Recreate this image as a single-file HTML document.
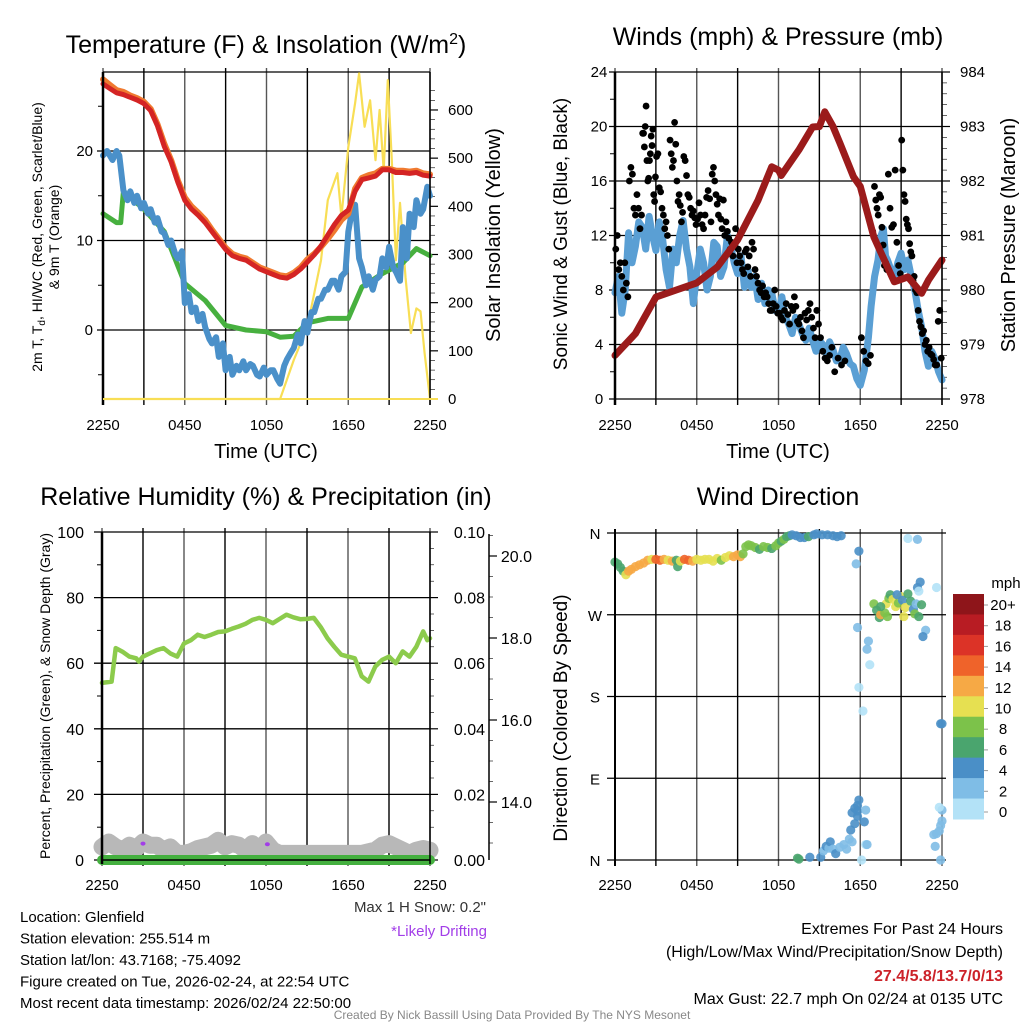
<!DOCTYPE html>
<html><head><meta charset="utf-8"><style>
html,body{margin:0;padding:0;background:#fff;}
svg{display:block;font-family:"Liberation Sans",Arial,sans-serif;}
</style></head><body>
<svg id="c" width="1024" height="1024" viewBox="0 0 1024 1024">
<rect width="1024" height="1024" fill="#fff"/>
</svg>
<script>
// ---------- data ----------
const tickHoursLbl = ["2250","0450","1050","1650","2250"];
// panel 1 (hours since 2250)
const tempHours = [0,0.5,1,1.5,2,2.5,3,3.5,4,4.5,5,5.5,6,6.5,7,7.5,8,8.5,9,9.5,10,10.5,11,11.5,12,12.5,13,13.5,14,14.5,15,15.5,16,16.5,17,17.5,18,18.5,19,19.5,20,20.5,21,21.5,22,22.5,23,23.5,24];
const tempVals  = [27.5,27,26.5,26.3,26,25.7,25.3,24.5,22.8,20.5,18.8,16.5,14.5,13.5,12.8,12,11,10,9,8.3,8,7.8,7.3,6.8,6.5,6.2,5.9,5.8,6.2,6.8,7.6,8.4,9.4,10.6,11.8,12.8,13.4,15.5,16.8,17,17.2,17.9,17.9,17.6,17.6,17.5,17.6,17.3,17.2];
const t9Vals    = [28,27.4,26.8,26.6,26.2,25.9,25.5,24.7,23,20.8,19,16.7,14.8,13.8,13.1,12.3,11.2,10.2,9.2,8.5,8.2,8,7.5,7,6.7,6.4,6.1,6,6.4,7,7.9,8.5,9.3,10.2,11.2,12.3,13,15.8,17,17.3,17.5,18,18,17.8,17.8,17.7,17.8,17.5,17.4];
const wcHours = [0,0.3,0.7,1,1.2,1.5,1.8,2,2.3,2.5,2.8,3,3.3,3.5,3.8,4,4.3,4.5,4.8,5,5.3,5.5,5.8,6,6.3,6.5,6.8,7,7.3,7.5,7.8,8,8.3,8.5,8.8,9,9.3,9.5,9.8,10,10.3,10.5,10.8,11,11.3,11.5,11.8,12,12.3,12.5,12.8,13,13.3,13.5,13.8,14,14.3,14.5,14.8,15,15.3,15.5,15.8,16,16.3,16.5,16.8,17,17.3,17.5,17.8,18,18.3,18.5,18.8,19,19.3,19.5,19.8,20,20.3,20.5,20.8,21,21.3,21.5,21.8,22,22.3,22.5,22.8,23,23.3,23.5,23.8,24];
const wcVals  = [19.5,20,19,20,19.5,15.6,14.5,15.5,14.2,15,13.6,14.2,13,13.5,12,12.5,11,10.8,9.5,10,8.5,8,8.8,3,4,2,2.5,1,1.8,0.3,-1,-1.5,-0.8,-3,-1.5,-4.5,-3,-5,-4,-4.5,-3.5,-4.5,-3.8,-4,-5,-5.2,-4.2,-5,-4.5,-4.5,-5.5,-6,-4,-3.3,-2.5,-2,-0.5,-1.5,1,-0.3,2,2,3.5,3.5,4.5,4.5,5.5,5.5,4.5,6,6.5,11,13.5,14,8,7,5,6,4.5,5.6,6,8,7,9.3,7,6.5,5.5,11.5,8,13,11.5,14.5,13,13.5,16,15];
const tdHours = [0,1,1.3,1.5,3,4.5,6,7.5,9,10.5,12,13,14,15,16.5,18,19,20.5,22,23,24];
const tdVals  = [13,12,12,15.5,13.5,11,5.2,3.3,0.5,0,-0.2,-0.8,-0.7,0.8,1.3,1.3,4.8,6.3,7.5,9.1,8.3];
const solHours = [0,13,14,15,16,16.5,17.2,17.5,18,18.5,18.8,19.2,19.6,20,20.3,20.6,20.9,21.2,21.5,21.8,22.2,22.6,23,23.3,23.6,24];
const solVals  = [0,0,81,150,288,413,469,378,523,614,676,565,620,496,600,475,662,496,288,407,253,137,188,182,95,0];
// panel 2
const presHours = [0,1.5,3,4.5,6,7.5,9,10.5,11.5,12,12.2,13.5,14.5,15,15.4,16,16.5,17.5,18,19,20,20.5,21.5,22.5,23,24];
const presVals  = [978.8,979.2,979.87,980,980.13,980.42,980.92,981.65,982.26,982.2,982.1,982.57,982.99,983,983.27,983,982.7,982.08,981.9,980.97,980.42,980.15,980.24,979.94,980.18,980.55];
const windHours = [0,0.25,0.5,0.75,1,1.25,1.5,1.75,2,2.25,2.5,2.75,3,3.25,3.5,3.75,4,4.25,4.5,4.75,5,5.25,5.5,5.75,6,6.25,6.5,6.75,7,7.25,7.5,7.75,8,8.25,8.5,8.75,9,9.25,9.5,9.75,10,10.25,10.5,10.75,11,11.25,11.5,11.75,12,12.25,12.5,12.75,13,13.25,13.5,13.75,14,14.25,14.5,14.75,15,15.25,15.5,15.75,16,16.25,16.5,16.75,17,17.25,17.5,17.75,18,18.3,18.6,18.8,19.05,19.3,19.5,19.7,19.85,20,20.25,20.5,20.75,21,21.25,21.5,21.75,22,22.25,22.5,22.75,23,23.25,23.5,23.75,24];
const windVals  = [7.8,9,6.3,8,12.2,10,11.2,13,12.6,11,13.4,12,10.9,13,11.7,9.5,8.2,11,10,12,13.1,11,9.7,7,9.2,11,10,8,9,11.5,11.2,9,9.7,12,11.2,10,9.2,10.5,8.2,9.5,8.2,9,7.3,8.5,7,8,7.8,6.5,6.3,7.5,6,5.5,4.8,6,5.5,4.8,4.3,5.2,4.3,3.5,4.3,4,3.3,4.2,3.6,2.8,2.9,3.8,3.3,2.6,2.4,1.5,1,2.1,4.5,6.8,9,10.2,11.9,12.5,10.5,10.2,9.5,8.7,10,10.7,9.5,10.2,9,8,6.5,5.3,3.5,2.4,3.5,2.9,2,1.4];
const gustByHour = [
 [11,12,9.5,10,9,8,10,8.5,7.5],
 [16,17,16.5,14,13.5,15,14,12.5,13.5],
 [19.5,19.5,18.5,20,21.5,17.5,16,16.2,17.5,18,19.3,18.6,19.8,15,14.5,16.3],
 [17.8,18,15.5,15.2,14,13.5,12.5,13,12,11],
 [19,18,17,17.5,20.3,18.7,16,14.5,15,14.2,13,13.7],
 [17.8,17.5,16.4,15,14.8,14,13.5,13.8,13.3,12.8],
 [13.2,14.4,13.5,12.8,12.5,13.5,14.8,15.3,14.7],
 [13,16.5,17,16,15,14.3,13.5,14.7,13.2,12.5,14.6],
 [12,13,12.3,11.8,11,11.5,10.5,11.2,12.5,10],
 [11,10.5,10,9.5,9.2,10.8,11,9.7,10.5,9],
 [11.5,11,9.5,9,8.5,8,7.8,8.3,7.5],
 [7.8,7.5,7,6.5,6.5,7,8,6.8,6.3],
 [6.3,6,5.8,6.5,7,6.2,5.5,6.8],
 [6.5,7.5,6.8,5.7,5.5,6,5,4.5,6.3],
 [5.8,6.5,7,6,5.2,4.5,6.5,5.5],
 [4.5,3.5,3,2.8,3.2,3.8],
 [2,3,2.5,2.8],
 [],
 [4.5,3.5,2.8,2.6,3.2,12.3],
 [15.6,14.6,14,13.5,15,14.8,12.6,11.3,9.8,10,9.5],
 [16.5,14,12.6,12.8,16.8,11.5,9.8,9.2],
 [19,16.8,15,14.5,13.2,12.8,12.5,11.4,10.8,10.5,8.7,9],
 [8,7.8,6.5,5.7,5.3,4.8,5,4,4.3,3.5],
 [3.8,3.3,3.2,2.9,2.5,2.5,5.7,6.5,3]
];
// panel 3
const rhHours = [0,0.7,1,1.5,2,2.5,2.7,3,3.5,4,4.5,5,5.5,6,6.5,7,7.5,8,8.5,9,9.5,10,10.5,11,11.5,12,12.5,13,13.5,14,14.5,15,15.5,16,16.5,17,17.5,18,18.5,19,19.5,20,20.5,21,21.5,22,22.5,23,23.5,23.8,24];
const rhVals  = [54,54.4,64.6,63.5,62,61.5,60.5,62,63,64,64.6,63,62,66,67,68.7,68,68.7,69.5,69.7,70.5,71.2,72,73.2,73.8,73.2,72.2,73.5,74.8,74,73.4,73.5,73.8,71,67.6,65,62.6,62,61.5,56,54.4,59,61,62,60,63.6,62,65,69.7,67,67.6];
const snowHours = [0,0.5,1,1.5,2,2.5,3,3.5,4,4.5,5,5.5,6,6.5,7,7.5,8,8.5,9,9.5,10,10.5,11,11.5,12,12.5,13,15,17,19,19.5,20,20.5,21,21.5,22,22.5,23,23.5,24];
const snowVals  = [4,5.5,4,3,4.5,3.5,5.5,4.5,4.5,3,4,2,2,2.5,3.5,4,4.5,6,4,5,4.5,3,5,3,5.5,3,2,2,2,2,2.5,3,4.5,5,4,3,2,3,3.5,3];
const precipVals = [0,0];
const driftHours = [3,12.1];
const driftVals = [5,4.8];
// panel 4
const dirTime = [0,0.2,0.4,0.6,0.8,1,1.2,1.5,1.8,2.1,2.4,2.7,3,3.3,3.6,3.9,4.2,4.5,4.6,4.8,5.1,5.4,5.7,6,6.3,6.6,6.9,7.2,7.5,7.8,8.1,8.4,8.7,9,9.2,9.4,9.6,9.8,10,10.3,10.6,10.9,11.2,11.5,11.8,12,12.2,12.4,12.6,12.8,13,13.3,13.6,13.9,14.2,14.6,14.8,15.2,15.6,16,16.3,16.6,
 17.9,17.7,17.8,18.6,18.5,18.7,17.9,18.2,21.5,22.2,22.4,22.2,23.6,22.3,22.8,22.6,23.9,
 19,19.2,19.4,19.5,19.8,19.9,20.1,20.2,20.4,20.6,20.8,21,21.1,21.3,21.5,21.7,21.9,22.1,22,22.3,22.5,19.5,20,20.7,21.2,
 13.4,13.5,14.3,15.1,15.3,15.5,15.7,15.8,16,16.2,16.5,16.8,17,17.2,17.4,17.3,17.6,17.8,17.6,17.8,17.9,17.8,17.4,18.3,18.4,18.4,18.5,18.1,23.9,23.5,23.4,23.6,23.8,23.9,24,24,23.8,24];
const dirVal = [328,326,322,318,314,318,320,323,325,327,330,331,331,330,331,330,329,330,323,329,331,330,329,331,330,331,331,329,332,330,333,335,334,336,334,337,345,347,346,344,342,345,344,343,346,349,351,353,356,357,358,357,355,355,356,358,359,358,358,357,356,357,
 340,326,256,241,232,215,190,164,354,353,306,300,300,296,253,246,150,
 282,275,267,270,272,282,288,292,287,279,283,290,286,278,293,285,276,282,271,268,281,279,268,292,268,
 2,1,3,3,10,15,13,20,12,7,14,17,12,23,20,33,40,48,57,60,66,54,52,42,55,17,17,0,0,15,28,29,32,38,43,55,58,150];
const dirSpd = [7,6,6,7,10,12,12,12,13,12,13,11,15,14,13,11,13,7,7,10,15,15,13,10,10,11,10,11,10,8,10,10,12,13,12,8,8,9,9,9,7,9,8,7,8,8,7,8,7,7,5,5,5,5,6,5,4,4,5,4,4,4,
 4,2,2,3,2,1,1,1,1,3,4,4,1,1,3,4,4,
 8,7,7,13,9,10,8,7,10,11,8,11,5,10,7,7,4,3,8,6,6,6,9,4,10,
 6,6,4,4,3,4,3,4,3,4,2,2,3,3,2,4,4,4,4,4,4,4,4,4,3,1,2,1,3,3,3,2,2,2,2,2,1,4];
const cbLabels = ["20+","18","16","14","12","10","8","6","4","2","0"];
const cbColors = ["#8e151a","#b81c23","#dc3327","#ef632a","#f6a945","#e6e051","#7cc24a","#4aa56e","#4a8fc7","#7fbde6","#b3e2f7"];

// ---------- helpers ----------
const NS="http://www.w3.org/2000/svg";
const svg=document.getElementById('c');
function mk(tag,attrs,parent){const e=document.createElementNS(NS,tag);for(const k in attrs)e.setAttribute(k,attrs[k]);(parent||svg).appendChild(e);return e;}
function txt(s,x,y,size,anchor,extra){const e=mk('text',Object.assign({x:x,y:y,'font-size':size,'text-anchor':anchor||'start',fill:'#000'},extra||{}));e.textContent=s;return e;}
function lin(x0,x1,h0,h1){return v=>x0+(v-h0)/(h1-h0)*(x1-x0);}
function poly(xs,ys,fx,fy,stroke,w,g){return mk('polyline',{points:xs.map((h,i)=>fx(h).toFixed(1)+','+fy(ys[i]).toFixed(1)).join(' '),fill:'none',stroke:stroke,'stroke-width':w,'stroke-linejoin':'round','stroke-linecap':'round'},g);}
function frame(L,R,T,B,g){
  for(let k=0;k<=8;k++){const x=L+k*(R-L)/8;mk('line',{x1:x,y1:T-4,x2:x,y2:B+6,stroke:k%2?'#000':'#555','stroke-width':1.4},g);}
}
function xLabels(L,R,y,g){tickHoursLbl.forEach((s,i)=>{const t=txt(s,L+i*(R-L)/4,y,15,'middle');g.appendChild(t);});}

// ---------- panel 1 ----------
{
const g=mk('g',{});


const L=103,R=430,T=72,B=399;
const fx=lin(L,R,0,24), fy=v=>330-v*8.95, fs=v=>399-v*0.4817;
frame(L,R,T,B,g);
[20,10,0].forEach(v=>{mk('line',{x1:L-6,y1:fy(v),x2:R,y2:fy(v),stroke:'#000','stroke-width':1.3},g);const t=txt(String(v),L-10,fy(v)+5,15,'end');g.appendChild(t);});
[25,15,5,-5].forEach(v=>mk('line',{x1:L-5,y1:fy(v),x2:L,y2:fy(v),stroke:'#000'},g));
mk('line',{x1:L,y1:T,x2:R,y2:T,stroke:'#000','stroke-width':1.3},g);
for(let v=0;v<=650;v+=20){mk('line',{x1:R,y1:fs(v),x2:R+(v%100?5:8),y2:fs(v),stroke:'#000','stroke-width':v%100?0.6:1.2},g);}
[0,100,200,300,400,500,600].forEach(v=>g.appendChild(txt(String(v),R+18,fs(v)+5,15,'start')));
const s1=poly(solHours,solVals,fx,fs,'#f8de55',2.2,g);
const td=poly(tdHours,tdVals,fx,fy,'#47b03f',5,g);
const wc=poly(wcHours,wcVals,fx,fy,'#4a90c9',6,g);
const t9=poly(tempHours,t9Vals,fx,fy,'#f07a30',6,g);
const t2=poly(tempHours,tempVals,fx,fy,'#d42424',5,g);
mk('line',{x1:L,y1:T,x2:L,y2:B+6,stroke:'#000','stroke-width':2.5},g);
mk('line',{x1:R,y1:T,x2:R,y2:B+6,stroke:'#000','stroke-width':1.5},g);
mk('line',{x1:L,y1:B,x2:R+8,y2:B,stroke:'#f8de55','stroke-width':2},g);
xLabels(L,R,430,g);
g.appendChild(txt('Time (UTC)',266,458,20,'middle'));
const ti=txt('',266,53,25,'middle');ti.innerHTML='Temperature (F) &amp; Insolation (W/m<tspan dy="-9" font-size="16">2</tspan><tspan dy="9">)</tspan>';g.appendChild(ti);

const yl=txt('',0,0,14,'middle',{transform:'translate(42,237) rotate(-90)'});yl.innerHTML='2m T, T<tspan dy="3" font-size="10">d</tspan><tspan dy="-3">, HI/WC (Red, Green, Scarlet/Blue)</tspan>';g.appendChild(yl);
g.appendChild(txt('& 9m T (Orange)',0,0,14,'middle',{transform:'translate(59,237) rotate(-90)'}));
g.appendChild(txt('Solar Insolation (Yellow)',0,0,20,'middle',{transform:'translate(500,235) rotate(-90)'}));
}
// ---------- panel 2 ----------
{
const g=mk('g',{});


const L=615,R=942,T=72,B=399;
const fx=lin(L,R,0,24), fy=v=>B-v*13.625, fp=p=>B-(p-978)*54.5;
frame(L,R,T,B,g);
for(let v=0;v<=24;v+=4){mk('line',{x1:L-6,y1:fy(v),x2:R,y2:fy(v),stroke:'#000','stroke-width':1.3},g);g.appendChild(txt(String(v),L-16,fy(v)+5,15,'middle'));}
for(let v=2;v<24;v+=4)mk('line',{x1:L-5,y1:fy(v),x2:L,y2:fy(v),stroke:'#000'},g);
for(let p=978;p<=984.01;p+=0.2){const maj=Math.abs(p-Math.round(p))<0.01;mk('line',{x1:R,y1:fp(p),x2:R+(maj?8:5),y2:fp(p),stroke:'#000','stroke-width':maj?1.2:0.6},g);}
for(let p=978;p<=984;p++)g.appendChild(txt(String(p),R+18,fp(p)+5,15,'start'));
const w=poly(windHours,windVals,fx,fy,'#5a9fd4',7,g);
gustByHour.forEach((arr,hr)=>arr.forEach((v,i)=>{const h=hr+(i+0.5)/arr.length;const c=mk('circle',{cx:fx(h),cy:fy(v),r:3.4,fill:'#000'},g);

}));
const pr=poly(presHours,presVals,fx,fp,'#9b1b1b',7,g);
mk('line',{x1:L,y1:T,x2:L,y2:B+6,stroke:'#000','stroke-width':2.5},g);
mk('line',{x1:R,y1:T,x2:R,y2:B+6,stroke:'#000','stroke-width':1.5},g);
xLabels(L,R,430,g);
g.appendChild(txt('Time (UTC)',778,458,20,'middle'));
g.appendChild(txt('Winds (mph) & Pressure (mb)',778,45,25,'middle'));
g.appendChild(txt('Sonic Wind & Gust (Blue, Black)',0,0,19,'middle',{transform:'translate(567,234) rotate(-90)'}));
g.appendChild(txt('Station Pressure (Maroon)',0,0,20,'middle',{transform:'translate(1015,235) rotate(-90)'}));
}
// ---------- panel 3 ----------
{
const g=mk('g',{});


const L=102,R=430,T=532,B=860;
const fx=lin(L,R,0,24), fy=v=>B-v*3.28, fpr=v=>B-v*3280, fsd=v=>556+(20-v)*41;
frame(L,R,T,B,g);
for(let v=0;v<=100;v+=20){mk('line',{x1:L-8,y1:fy(v),x2:R,y2:fy(v),stroke:'#000','stroke-width':1.3},g);g.appendChild(txt(String(v),L-18,fy(v)+6,16,'end'));}
for(let v=10;v<100;v+=20)mk('line',{x1:L-5,y1:fy(v),x2:L,y2:fy(v),stroke:'#000'},g);
for(let v=0;v<=0.1001;v+=0.005){const maj=Math.round(v*1000)%20===0;mk('line',{x1:R,y1:fpr(v),x2:R+(maj?8:4),y2:fpr(v),stroke:'#000','stroke-width':maj?1.2:0.6},g);}
['0.00','0.02','0.04','0.06','0.08','0.10'].forEach((s,i)=>g.appendChild(txt(s,R+55,fpr(i*0.02)+6,16,'end')));
mk('line',{x1:489,y1:T+2,x2:489,y2:B,stroke:'#000','stroke-width':1.5},g);
for(let v=13;v<=20.6;v+=0.5){const maj=Math.abs(v-Math.round(v/2)*2)<0.01;mk('line',{x1:489,y1:fsd(v),x2:489+(maj?8:4),y2:fsd(v),stroke:'#000','stroke-width':maj?1.2:0.6},g);}
['14.0','16.0','18.0','20.0'].forEach(s=>g.appendChild(txt(s,532,fsd(+s)+6,16,'end')));
const sn=poly(snowHours,snowVals,fx,fy,'#b8b8b8',17,g);
const pc=poly([0,24],precipVals,fx,fpr,'#44b03f',10,g);
driftHours.forEach((h,i)=>{const d=mk('ellipse',{cx:fx(h),cy:fy(driftVals[i]),rx:2.5,ry:2,fill:'#a23ee8'},g);

});
const rh=poly(rhHours,rhVals,fx,fy,'#8ccb4c',4.5,g);
mk('line',{x1:L,y1:T,x2:L,y2:B+4,stroke:'#000','stroke-width':2.5},g);
mk('line',{x1:R,y1:T,x2:R,y2:B+4,stroke:'#000','stroke-width':1.5},g);
mk('line',{x1:L,y1:B,x2:R,y2:B,stroke:'#000','stroke-width':1.5},g);
xLabels(L,R,890,g);
g.appendChild(txt('Relative Humidity (%) & Precipitation (in)',266,505,25,'middle'));
g.appendChild(txt('Percent, Precipitation (Green), & Snow Depth (Gray)',0,0,14,'middle',{transform:'translate(50,696) rotate(-90)'}));
}
// ---------- panel 4 ----------
{
const g=mk('g',{});


const L=615,R=942,T=533,B=860;
const fx=lin(L,R,0,24), fy=d=>B-d/360*327;
frame(L,R,T,B,g);
['N','E','S','W','N'].forEach((s,i)=>{const y=fy(i*90);mk('line',{x1:L-8,y1:y,x2:R+4,y2:y,stroke:'#000','stroke-width':1.3},g);g.appendChild(txt(s,L-20,y+6,15,'middle'));});
const col=s=>cbColors[10-Math.min(10,Math.floor(s/2))];
dirTime.forEach((h,i)=>{const c=mk('circle',{cx:fx(h),cy:fy(dirVal[i]),r:4.6,fill:col(dirSpd[i]),'fill-opacity':0.9},g);

});
mk('line',{x1:L,y1:T-4,x2:L,y2:B+6,stroke:'#000','stroke-width':2},g);
xLabels(L,R,890,g);
g.appendChild(txt('Wind Direction',778,505,25,'middle'));
g.appendChild(txt('Direction (Colored By Speed)',0,0,19,'middle',{transform:'translate(567,718) rotate(-90)'}));
// colorbar
const cg=mk('g',{},g);


const bh=(819-594)/11;
cbColors.forEach((c,i)=>mk('rect',{x:953,y:594+i*bh,width:31,height:bh+0.5,fill:c},cg));
cbLabels.forEach((s,i)=>{mk('line',{x1:984,y1:605+i*20.7,x2:988,y2:605+i*20.7,stroke:'#999'},cg);cg.appendChild(txt(s,1003,610+i*20.7,15,'middle'));});
cg.appendChild(txt('mph',1006,588,15,'middle'));
}
// ---------- footer text ----------
{
const g=mk('g',{});


['Location: Glenfield','Station elevation: 255.514 m','Station lat/lon: 43.7168; -75.4092','Figure created on Tue, 2026-02-24, at 22:54 UTC','Most recent data timestamp: 2026/02/24 22:50:00'].forEach((s,i)=>g.appendChild(txt(s,20,922+i*21.5,15,'start')));
g.appendChild(txt('Max 1 H Snow: 0.2"',486,912,15,'end',{fill:'#333'}));
g.appendChild(txt('*Likely Drifting',487,936,15,'end',{fill:'#a23ee8'}));
const e=mk('g',{});


e.appendChild(txt('Extremes For Past 24 Hours',1003,934,16,'end'));
e.appendChild(txt('(High/Low/Max Wind/Precipitation/Snow Depth)',1003,957,16,'end'));
e.appendChild(txt('27.4/5.8/13.7/0/13',1003,981,16,'end',{fill:'#cc2229','font-weight':'bold'}));
e.appendChild(txt('Max Gust: 22.7 mph On 02/24 at 0135 UTC',1003,1004,16,'end'));
const cr=txt('Created By Nick Bassill Using Data Provided By The NYS Mesonet',512,1019,12,'middle',{fill:'#888'});

}
</script>
</body></html>
